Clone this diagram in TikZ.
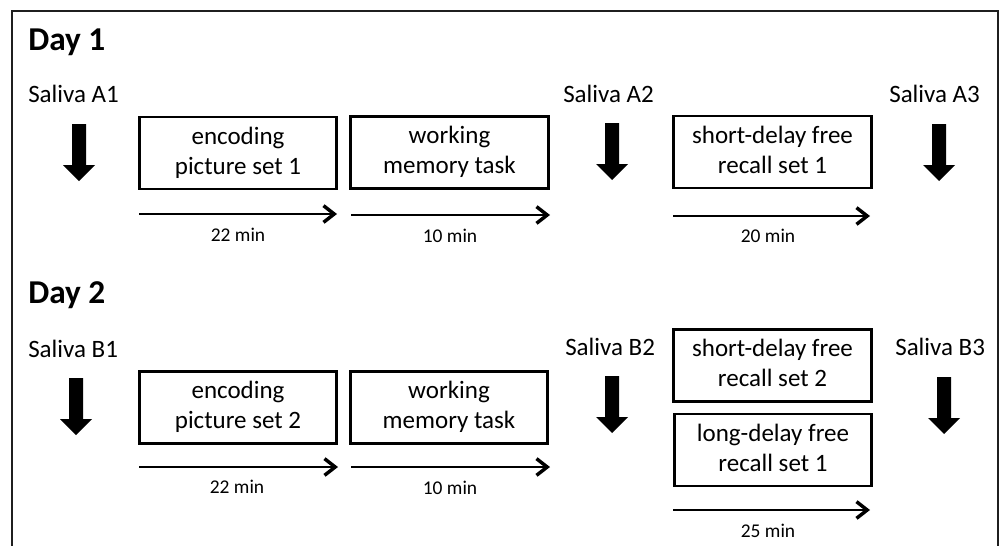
\documentclass[tikz,border=0pt]{standalone}
\usepackage{fontspec}
\setmainfont{Carlito}
\usetikzlibrary{arrows.meta}
\begin{document}
\begin{tikzpicture}[x=0.75pt,y=-0.75pt,
  frame/.style={draw=black!88, line width=1.5pt},
  box/.style={draw=black, line width=2.2pt, minimum width=148pt, minimum height=54pt, inner sep=0pt, align=center, font=\fontsize{18.75}{22.5}\selectfont},
  daylabel/.style={anchor=base west, font=\fontsize{25}{30}\selectfont\bfseries, inner sep=0pt},
  saliva/.style={anchor=base west, font=\fontsize{18.75}{22.5}\selectfont, inner sep=0pt},
  minlabel/.style={anchor=base, font=\fontsize{14.6}{17}\selectfont, inner sep=0pt},
  timearrow/.style={line width=2.2pt, -{Straight Barb[length=8pt,width=12.5pt,line width=2.6pt]}},
  bigdown/.pic={\fill[black] (-7,0) -- (7,0) -- (7,41) -- (16,41) -- (0,57) -- (-16,41) -- (-7,41) -- cycle;}
]
\useasboundingbox (0,0) rectangle (1003,546);
\draw[frame] (12,546) -- (12,11) -- (998,11) -- (998,546);

% Day 1
\node[daylabel] (day1) at (28,50) {Day 1};
\node[saliva] (sa1) at (28,102) {Saliva A1};
\node[saliva] (sa2) at (563,102) {Saliva A2};
\node[saliva] (sa3) at (889,102) {Saliva A3};
\pic (pa1) at (79,124) {bigdown};
\pic (pa2) at (612,123) {bigdown};
\pic (pa3) at (939,124) {bigdown};

\node[box] (b1) at (238,153) {\strut encoding\\\strut picture set 1};
\node[box] (b2) at (449.5,152.5) {\strut working\\\strut memory task};
\node[box] (b3) at (772.5,152) {\strut short-delay free\\\strut recall set 1};

\coordinate (t1s) at (139,214); \coordinate (t1e) at (337,214);
\coordinate (t2s) at (351,215); \coordinate (t2e) at (550,215);
\coordinate (t3s) at (673,216); \coordinate (t3e) at (870,216);
\draw[timearrow] (t1s) -- (t1e);
\draw[timearrow] (t2s) -- (t2e);
\draw[timearrow] (t3s) -- (t3e);
\node[minlabel] (m1) at (238,241) {22 min};
\node[minlabel] (m2) at (450,242) {10 min};
\node[minlabel] (m3) at (768,242) {20 min};

% Day 2
\node[daylabel] (day2) at (28,303) {Day 2};
\node[saliva] (sb1) at (28,357) {Saliva B1};
\node[saliva] (sb2) at (565,355) {Saliva B2};
\node[saliva] (sb3) at (895,355) {Saliva B3};
\pic (pb1) at (76,378) {bigdown};
\pic (pb2) at (612,376) {bigdown};
\pic (pb3) at (944,377) {bigdown};

\node[box] (b4) at (238,407.5) {\strut encoding\\\strut picture set 2};
\node[box] (b5) at (449,407.5) {\strut working\\\strut memory task};
\node[box] (b6) at (772.5,365.5) {\strut short-delay free\\\strut recall set 2};
\node[box] (b7) at (773,450) {\strut long-delay free\\\strut recall set 1};

\coordinate (t4s) at (139,467); \coordinate (t4e) at (338,467);
\coordinate (t5s) at (351,467); \coordinate (t5e) at (550,467);
\coordinate (t6s) at (673,510); \coordinate (t6e) at (870,510);
\draw[timearrow] (t4s) -- (t4e);
\draw[timearrow] (t5s) -- (t5e);
\draw[timearrow] (t6s) -- (t6e);
\node[minlabel] (m4) at (237,493) {22 min};
\node[minlabel] (m5) at (450,494) {10 min};
\node[minlabel] (m6) at (768,537) {25 min};
\end{tikzpicture}
\end{document}
